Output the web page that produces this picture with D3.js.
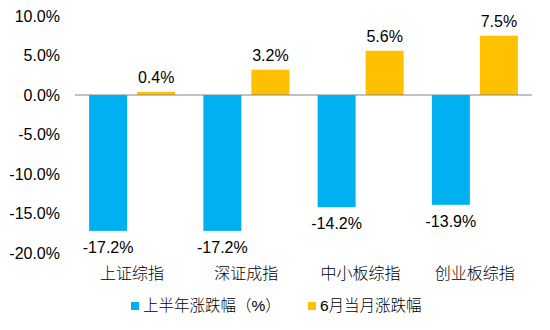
<!DOCTYPE html>
<html><head><meta charset="utf-8">
<script src="https://cdn.jsdelivr.net/npm/d3@7"></script>
<style>body{margin:0;background:#fff}svg{display:block}text{font-family:"Liberation Sans",Arial,"Noto Sans CJK SC",sans-serif}</style>
</head><body><svg id="c" width="550" height="330"></svg>
<script>
const categories = ["上证综指","深证成指","中小板综指","创业板综指"];
const seriesNames = ["上半年涨跌幅（%）","6月当月涨跌幅"];
const halfYear = [-17.2,-17.2,-14.2,-13.9];
const june = [0.4,3.2,5.6,7.5];
const yTicks = [10,5,0,-5,-10,-15,-20];
const colors = ["#00B0F0","#FFC000"];

const svg = d3.select("#c");
const left = 75, right = 532;
const y = d3.scaleLinear().domain([-20,10]).range([253,16]);
const x0 = d3.scaleBand().domain(categories).range([left,right]).paddingInner(0).paddingOuter(0);
const barW = 38, gap = 10;
const font = 16;
const pct = d => d.toFixed(1) + "%";

// y tick labels
svg.append("g").selectAll("text").data(yTicks).join("text")
  .attr("x",60).attr("y",d=>y(d)).attr("dy","0.36em")
  .attr("text-anchor","end").attr("font-size",font).attr("fill","#000")
  .text(pct);

const series = [halfYear, june];
series.forEach((vals,si)=>{
  const g = svg.append("g");
  g.selectAll("rect").data(vals).join("rect")
    .attr("x",(d,i)=>x0(categories[i]) + x0.bandwidth()/2 - gap/2 - barW + si*(barW+gap))
    .attr("width",barW)
    .attr("y",d=>d>=0?y(d):y(0))
    .attr("height",d=>Math.abs(y(d)-y(0)))
    .attr("fill",colors[si]);
  g.selectAll("text").data(vals).join("text")
    .attr("x",(d,i)=>x0(categories[i]) + x0.bandwidth()/2 - gap/2 - barW/2 + si*(barW+gap))
    .attr("y",d=>d>=0?y(d)-9:y(d)+22)
    .attr("text-anchor","middle").attr("font-size",font).attr("fill","#000")
    .text(pct);
});

// zero line
svg.append("line").attr("x1",left).attr("x2",right).attr("y1",y(0)).attr("y2",y(0))
  .attr("stroke","#868686").attr("stroke-width",1);

// category labels
svg.append("g").selectAll("text").data(categories).join("text")
  .attr("x",d=>x0(d)+x0.bandwidth()/2).attr("y",279)
  .attr("text-anchor","middle").attr("font-size",font).attr("font-weight",300).attr("fill","#000")
  .text(d=>d);

// legend
const leg = [{x:131,name:seriesNames[0],c:colors[0]},{x:308,name:seriesNames[1],c:colors[1]}];
const lg = svg.append("g");
lg.selectAll("rect").data(leg).join("rect")
  .attr("x",d=>d.x).attr("y",302).attr("width",8).attr("height",8).attr("fill",d=>d.c);
lg.selectAll("text").data(leg).join("text")
  .attr("x",d=>d.x+12).attr("y",311).attr("font-size",15.5).attr("font-weight",300).attr("fill","#000")
  .text(d=>d.name);
</script></body></html>
